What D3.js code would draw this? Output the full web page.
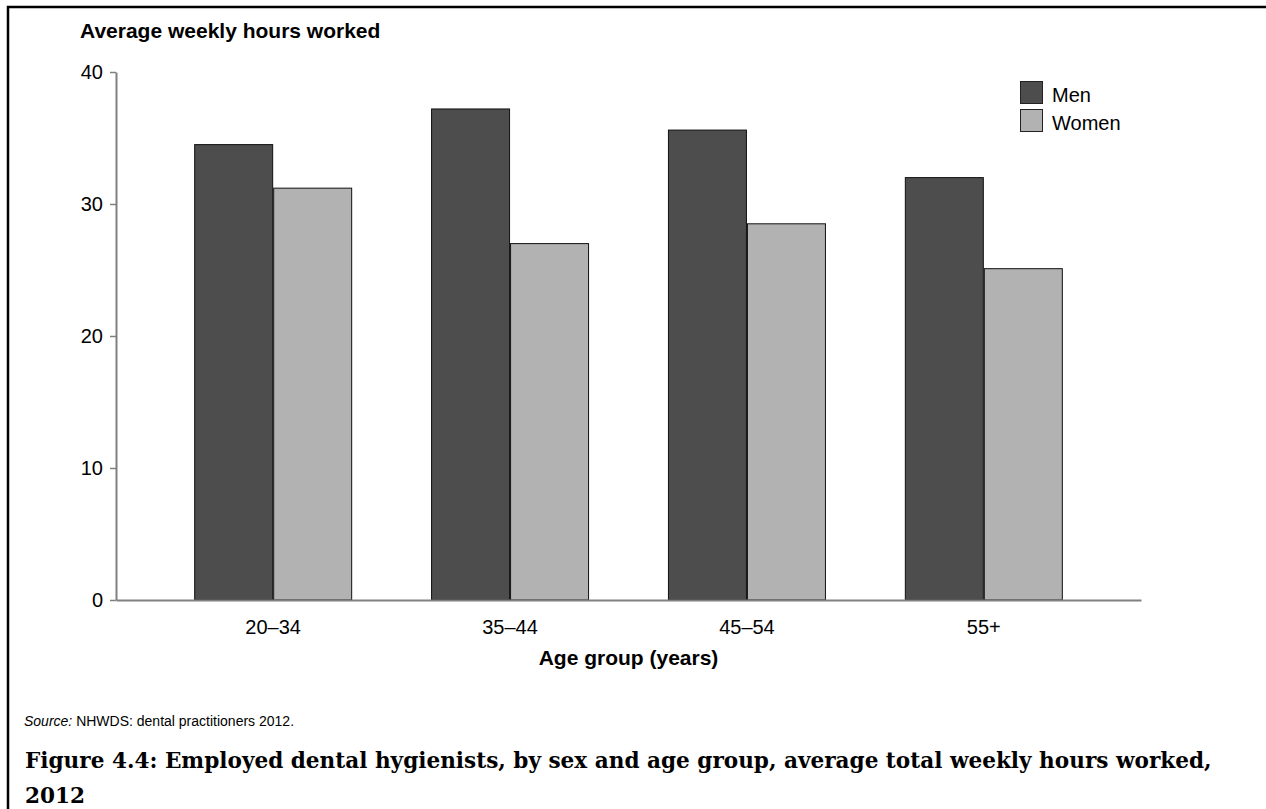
<!DOCTYPE html>
<html>
<head>
<meta charset="utf-8">
<script src="https://cdn.jsdelivr.net/npm/d3@7"></script>
<style>
  body { margin: 0; background: #fff; }
  text { font-family: "Liberation Sans", Arial, sans-serif; fill: #000; }
</style>
</head>
<body>
<div id="chart"></div>
<script>
const WIDTH = 1266;
const HEIGHT = 809;

// data
const ageGroups = ["20–34", "35–44", "45–54", "55+"];
const sexes = ["Men", "Women"];
const menHours = [34.5, 37.2, 35.6, 32.0];
const womenHours = [31.2, 27.0, 28.5, 25.1];
const yTicks = [0, 10, 20, 30, 40];
const colours = ["#4d4d4d", "#b2b2b2"];

const rows = ageGroups.map((g, i) => ({group: g, values: [menHours[i], womenHours[i]]}));

const margin = {left: 116, right: 125, top: 72, bottom: 209};
const plotW = WIDTH - margin.left - margin.right;
const plotH = HEIGHT - margin.top - margin.bottom;

const svg = d3.select("#chart")
  .append("svg")
  .attr("width", WIDTH)
  .attr("height", HEIGHT)
  .attr("viewBox", [0, 0, WIDTH, HEIGHT]);

// frame (top and left only)
svg.append("path")
  .attr("d", `M8,${HEIGHT} V7 H${WIDTH}`)
  .attr("fill", "none")
  .attr("stroke", "#000")
  .attr("stroke-width", 2.5);

const g = svg.append("g")
  .attr("transform", `translate(${margin.left},${margin.top})`);

const x = d3.scaleBand()
  .domain(ageGroups)
  .range([0, plotW])
  .paddingInner(0.333)
  .paddingOuter(0.33);

const xSex = d3.scaleBand()
  .domain(sexes)
  .range([0, x.bandwidth()]);

const y = d3.scaleLinear()
  .domain([0, 40])
  .range([plotH, 0]);

// bars
const groups = g.selectAll(".grp")
  .data(rows)
  .enter().append("g")
  .attr("class", "grp")
  .attr("transform", d => `translate(${x(d.group)},0)`);

groups.selectAll("rect")
  .data(d => d.values.map((v, i) => ({sex: sexes[i], value: v, i})))
  .enter().append("rect")
  .attr("x", d => xSex(d.sex) + 0.5)
  .attr("y", d => y(d.value))
  .attr("width", xSex.bandwidth() - 1)
  .attr("height", d => plotH - y(d.value))
  .attr("fill", d => colours[d.i])
  .attr("stroke", "#111")
  .attr("stroke-width", 1);

// y axis
const yAxis = g.append("g")
  .call(d3.axisLeft(y).tickValues(yTicks).tickSize(6).tickPadding(7).tickSizeOuter(0));
yAxis.select(".domain").attr("stroke", "#808080").attr("stroke-width", 2);
yAxis.selectAll(".tick line").attr("stroke", "#808080").attr("stroke-width", 1.5);
yAxis.selectAll(".tick text")
  .attr("font-size", 20)
  .attr("font-family", "Liberation Sans, Arial, sans-serif")
  .attr("fill", "#000");

// x axis
const xAxis = g.append("g")
  .attr("transform", `translate(0,${plotH})`)
  .call(d3.axisBottom(x).tickSize(0).tickPadding(20).tickSizeOuter(0));
xAxis.select(".domain").attr("stroke", "#808080").attr("stroke-width", 2);
xAxis.selectAll(".tick text")
  .attr("font-size", 20)
  .attr("font-family", "Liberation Sans, Arial, sans-serif")
  .attr("fill", "#000");

// axis titles
svg.append("text")
  .attr("x", 80)
  .attr("y", 38)
  .attr("font-size", 21)
  .attr("font-weight", "bold")
  .text("Average weekly hours worked");

svg.append("text")
  .attr("x", margin.left + plotW / 2)
  .attr("y", 665)
  .attr("text-anchor", "middle")
  .attr("font-size", 21)
  .attr("font-weight", "bold")
  .text("Age group (years)");

// legend
const legend = svg.append("g")
  .attr("transform", "translate(1020,81)");

const item = legend.selectAll(".item")
  .data(sexes)
  .enter().append("g")
  .attr("class", "item")
  .attr("transform", (d, i) => `translate(0,${i * 28})`);

item.append("rect")
  .attr("x", 0.5)
  .attr("y", 0.5)
  .attr("width", 22)
  .attr("height", 22)
  .attr("fill", (d, i) => colours[i])
  .attr("stroke", "#222");

item.append("text")
  .attr("x", 32)
  .attr("y", 21)
  .attr("font-size", 20)
  .text(d => d);

// source note
const src = svg.append("text")
  .attr("x", 24)
  .attr("y", 726)
  .attr("font-size", 14);
src.append("tspan").attr("font-style", "italic").text("Source:");
src.append("tspan").text(" NHWDS: dental practitioners 2012.");

// figure caption, sized so the first line spans the same width as the original
const cap = svg.append("text")
  .attr("x", 25)
  .attr("y", 768)
  .attr("font-size", 20)
  .attr("font-weight", "bold")
  .style("font-family", "'DejaVu Serif', 'Liberation Serif', serif");
const line1 = cap.append("tspan")
  .attr("x", 25)
  .text("Figure 4.4: Employed dental hygienists, by sex and age group, average total weekly hours worked,");
cap.append("tspan")
  .attr("x", 25)
  .attr("dy", 35)
  .text("2012");
const len = line1.node().getComputedTextLength();
cap.attr("font-size", Math.min(22, 20 * 1187 / len));
</script>
</body>
</html>
